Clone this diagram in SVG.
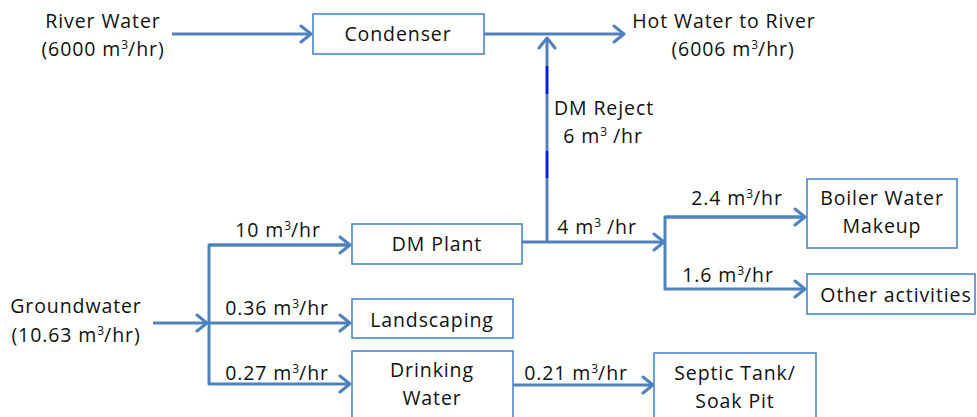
<svg xmlns="http://www.w3.org/2000/svg" width="977" height="417" viewBox="0 0 977 417">
<style>
.box{fill:#fff;stroke:#4a86c8;stroke-width:1.6}
.ln{fill:none;stroke:#4f81bd;stroke-width:3;stroke-linejoin:round}
.t{font-family:"Open Sans","Liberation Sans",sans-serif;font-size:19.5px;letter-spacing:0.9px;fill:#111;text-anchor:middle}
.s{font-size:12px;letter-spacing:0}
</style>
<defs>
<marker id="ah" markerUnits="userSpaceOnUse" markerWidth="20" markerHeight="20" viewBox="-12 -10 14 20" refX="0" refY="0" orient="auto">
<path d="M-10,-8 L0,0 L-10,8" fill="none" stroke="#4f81bd" stroke-width="3" stroke-linecap="round" stroke-linejoin="round"/>
</marker>
</defs>
<rect width="977" height="417" fill="#fff"/>
<g id="connectors">
<path class="ln" d="M172,34 H311" marker-end="url(#ah)"/>
<path class="ln" d="M484,34 H624" marker-end="url(#ah)"/>
<path class="ln" d="M547,242 V38" marker-end="url(#ah)"/>
<path d="M547,66 V94 M547,151 V178" stroke="#0a1cf0" stroke-width="2.5"/>
<path class="ln" d="M522,242 H664" marker-end="url(#ah)"/>
<path class="ln" d="M805,217 H665 V289 H805" marker-end="url(#ah)"/>
<path class="ln" d="M665,217 H805" marker-end="url(#ah)"/>
<path class="ln" d="M153,323 H207" marker-end="url(#ah)"/>
<path class="ln" d="M350,245 H209 V384 H350" marker-end="url(#ah)"/>
<path class="ln" d="M209,245 H350" marker-end="url(#ah)"/>
<path class="ln" d="M209,323 H350" marker-end="url(#ah)"/>
<path class="ln" d="M513,385 H653" marker-end="url(#ah)"/>
</g>
<g id="labels">
<text class="t" x="103" y="28">River Water</text>
<text class="t" x="103" y="56">(6000 m<tspan class="s" dy="-7">3</tspan><tspan dy="7">/hr)</tspan></text>
<text class="t" x="724" y="28">Hot Water to River</text>
<text class="t" x="733" y="56">(6006 m<tspan class="s" dy="-7">3</tspan><tspan dy="7">/hr)</tspan></text>
<text class="t" x="604" y="115">DM Reject</text>
<text class="t" x="603" y="143">6 m<tspan class="s" dy="-7">3</tspan><tspan dy="7"> /hr</tspan></text>
<text class="t" x="597" y="234">4 m<tspan class="s" dy="-7">3</tspan><tspan dy="7"> /hr</tspan></text>
<text class="t" x="737" y="205">2.4 m<tspan class="s" dy="-7">3</tspan><tspan dy="7">/hr</tspan></text>
<text class="t" x="728" y="282">1.6 m<tspan class="s" dy="-7">3</tspan><tspan dy="7">/hr</tspan></text>
<text class="t" x="76" y="313">Groundwater</text>
<text class="t" x="76" y="342">(10.63 m<tspan class="s" dy="-7">3</tspan><tspan dy="7">/hr)</tspan></text>
<text class="t" x="278" y="237">10 m<tspan class="s" dy="-7">3</tspan><tspan dy="7">/hr</tspan></text>
<text class="t" x="277" y="315">0.36 m<tspan class="s" dy="-7">3</tspan><tspan dy="7">/hr</tspan></text>
<text class="t" x="277" y="380">0.27 m<tspan class="s" dy="-7">3</tspan><tspan dy="7">/hr</tspan></text>
<text class="t" x="576" y="380">0.21 m<tspan class="s" dy="-7">3</tspan><tspan dy="7">/hr</tspan></text>
</g>
<g id="condenser"><rect class="box" x="313" y="14" width="171" height="40"/><text class="t" x="398" y="41">Condenser</text></g>
<g id="dm-plant"><rect class="box" x="352" y="224" width="170" height="40"/><text class="t" x="437" y="251">DM Plant</text></g>
<g id="boiler"><rect class="box" x="807" y="179" width="150" height="69"/><text class="t" x="882" y="205">Boiler Water</text><text class="t" x="882" y="233">Makeup</text></g>
<g id="other"><rect class="box" x="807" y="274" width="168" height="40"/><text class="t" x="896" y="302">Other activities</text></g>
<g id="landscaping"><rect class="box" x="352" y="299" width="161" height="39"/><text class="t" x="432" y="327">Landscaping</text></g>
<g id="drinking"><rect class="box" x="352" y="351" width="161" height="70"/><text class="t" x="432" y="377">Drinking</text><text class="t" x="432" y="405">Water</text></g>
<g id="septic"><rect class="box" x="654" y="353" width="162" height="70"/><text class="t" x="735" y="380">Septic Tank/</text><text class="t" x="735" y="408">Soak Pit</text></g>
</svg>
